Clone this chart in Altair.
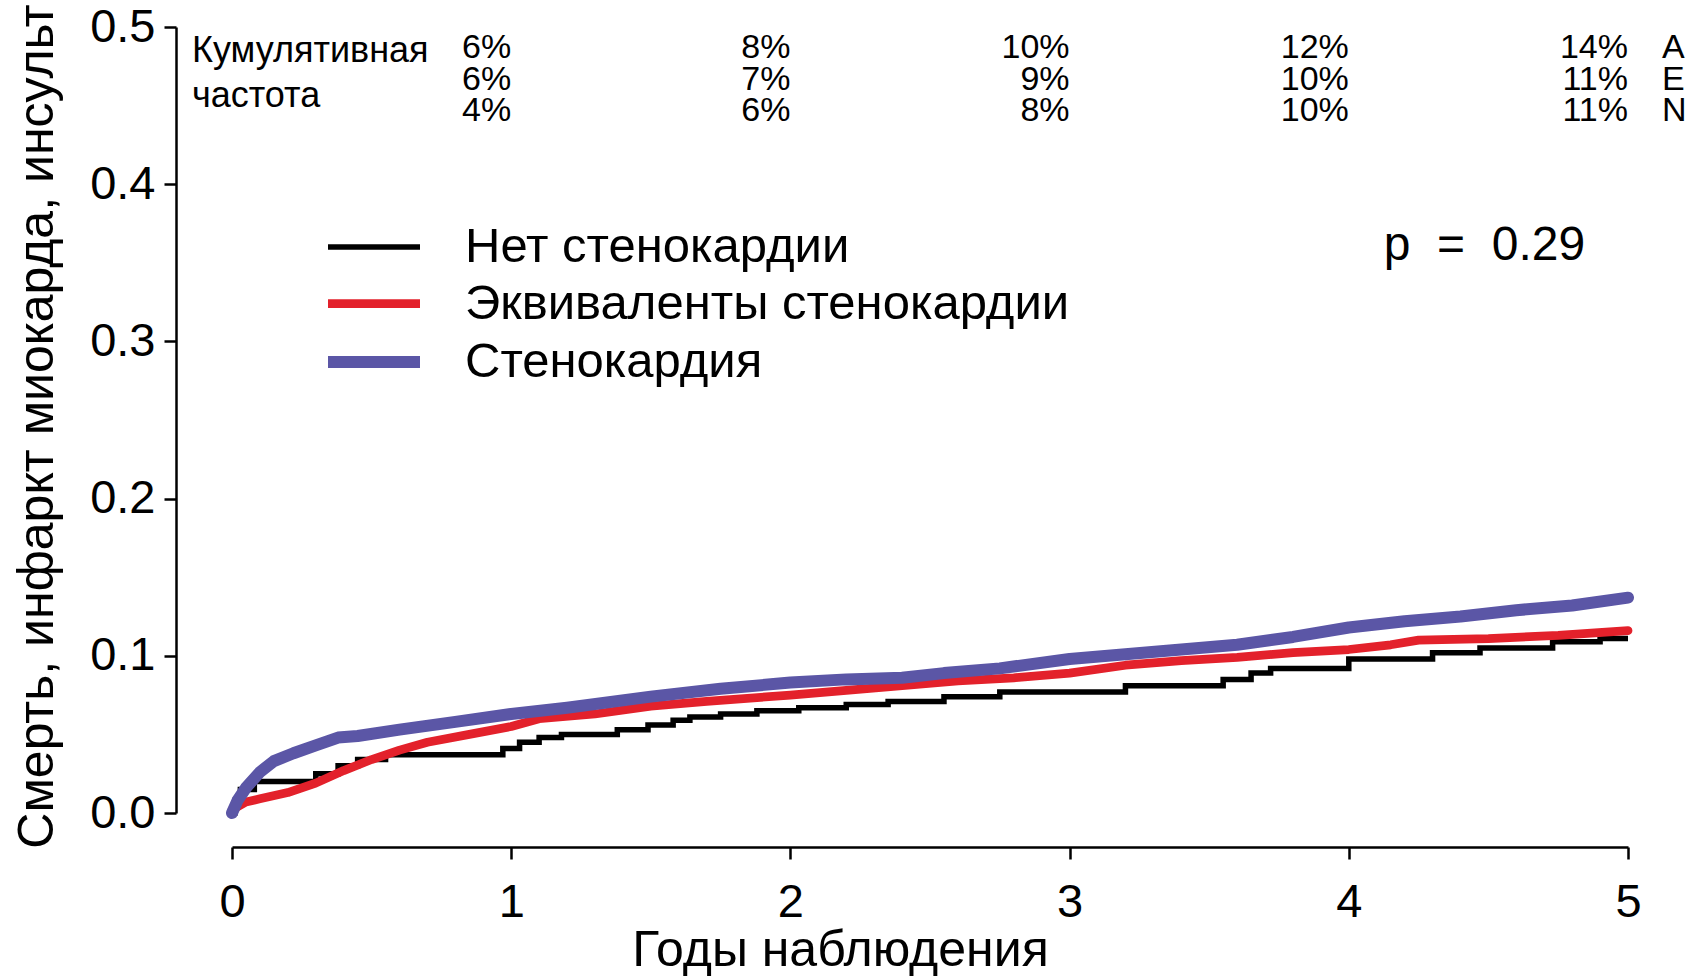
import altair as alt
import pandas as pd

FONT = "Liberation Sans"

# Series (Kaplan-Meier style cumulative incidence curves)
groups = ["Нет стенокардии", "Эквиваленты стенокардии", "Стенокардия"]
colors = ["#000000", "#E3212B", "#5B56A6"]
widths = [5.5, 12, 12]

none_t = [0, 0.01, 0.03, 0.08, 0.30, 0.38, 0.45, 0.55, 0.97, 1.03, 1.10, 1.18,
          1.38, 1.49, 1.58, 1.64, 1.75, 1.88, 2.03, 2.20, 2.35, 2.55, 2.75,
          3.20, 3.55, 3.65, 3.72, 4.00, 4.30, 4.47, 4.73, 4.90, 5.00]
none_v = [0, 0.008, 0.015, 0.020, 0.025, 0.030, 0.034, 0.037, 0.041, 0.045, 0.048, 0.050,
          0.053, 0.056, 0.059, 0.061, 0.063, 0.065, 0.067, 0.069, 0.071, 0.074, 0.077,
          0.081, 0.085, 0.089, 0.092, 0.098, 0.102, 0.105, 0.109, 0.111, 0.111]

equiv_t = [0, 0.05, 0.10, 0.20, 0.30, 0.40, 0.50, 0.60, 0.70, 0.85, 1.00, 1.10, 1.30,
           1.50, 1.70, 2.00, 2.20, 2.40, 2.60, 2.80, 3.00, 3.20, 3.40, 3.60, 3.80,
           4.00, 4.15, 4.25, 4.50, 4.75, 5.00]
equiv_v = [0.002, 0.007, 0.009, 0.013, 0.019, 0.027, 0.034, 0.040, 0.045, 0.050, 0.055,
           0.060, 0.063, 0.068, 0.071, 0.075, 0.078, 0.081, 0.084, 0.086, 0.089, 0.094,
           0.097, 0.099, 0.102, 0.104, 0.107, 0.110, 0.111, 0.113, 0.116]

angina_t = [0, 0.02, 0.05, 0.10, 0.15, 0.22, 0.30, 0.38, 0.45, 0.60, 0.80, 1.00, 1.20,
            1.50, 1.75, 2.00, 2.20, 2.40, 2.55, 2.75, 3.00, 3.20, 3.40, 3.60, 3.80,
            4.00, 4.20, 4.40, 4.60, 4.80, 5.00]
angina_v = [0.000, 0.008, 0.016, 0.026, 0.033, 0.038, 0.043, 0.048, 0.049, 0.053, 0.058,
            0.063, 0.067, 0.074, 0.079, 0.083, 0.085, 0.086, 0.089, 0.092, 0.098, 0.101,
            0.104, 0.107, 0.112, 0.118, 0.122, 0.125, 0.129, 0.132, 0.137]

# Cumulative incidence table printed above the curves
years = [1, 2, 3, 4, 5]
pct_angina = ["6%", "8%", "10%", "12%", "14%"]
pct_equiv = ["6%", "7%", "9%", "10%", "11%"]
pct_none = ["4%", "6%", "8%", "10%", "11%"]
row_codes = ["A", "E", "N"]

curves = pd.concat([
    pd.DataFrame({"t": none_t, "v": none_v, "group": groups[0]}),
    pd.DataFrame({"t": equiv_t, "v": equiv_v, "group": groups[1]}),
    pd.DataFrame({"t": angina_t, "v": angina_v, "group": groups[2]}),
], ignore_index=True)

pct_rows = []
for r, labels in enumerate([pct_angina, pct_equiv, pct_none]):
    for yr, lab in zip(years, labels):
        pct_rows.append({"year": yr, "label": lab, "row": r})
pct_df = pd.DataFrame(pct_rows)
code_df = pd.DataFrame({"year": [5] * 3, "label": row_codes, "row": [0, 1, 2]})

# Legend swatch: a horizontal stroke twice as long as the nominal symbol box,
# so the rows stay compact while the line samples stay long.
legend = alt.Legend(
    orient="none", legendX=113, legendY=194, title=None,
    symbolType="M-2,0H2", symbolSize=2116, labelFontSize=49, labelFont=FONT,
    labelOffset=62, labelLimit=0, rowPadding=4, labelColor="black",
)

x_enc = alt.X(
    "t:Q",
    scale=alt.Scale(domain=[0, 5], nice=False, zero=False),
    axis=alt.Axis(
        values=[0, 1, 2, 3, 4, 5], format="d", title="Годы наблюдения",
        offset=34, tickSize=12, labelPadding=20, labelFontSize=47, labelFlush=False,
        titleFontSize=50, titleX=608, titleY=118, titleBaseline="alphabetic",
        titleAlign="center",
    ),
)
y_enc = alt.Y(
    "v:Q",
    scale=alt.Scale(domain=[0, 0.5], nice=False),
    axis=alt.Axis(
        values=[0, 0.1, 0.2, 0.3, 0.4, 0.5], format=".1f",
        title="Смерть, инфаркт миокарда, инсульт", labelFlush=False,
        offset=56, tickSize=12, labelPadding=9, labelFontSize=47,
        titleFontSize=50, titleX=-124, titleY=399, titleAngle=270,
        titleBaseline="alphabetic", titleAlign="center",
    ),
)
color_enc = alt.Color("group:N", scale=alt.Scale(domain=groups, range=colors), legend=legend)
width_enc = alt.StrokeWidth("group:N", scale=alt.Scale(domain=groups, range=widths), legend=legend)

base = alt.Chart(curves).encode(x=x_enc, y=y_enc, color=color_enc, strokeWidth=width_enc)

line_none = base.transform_filter(alt.datum.group == groups[0]).mark_line(
    interpolate="step-after", strokeCap="butt")
line_equiv = base.transform_filter(alt.datum.group == groups[1]).mark_line(
    interpolate="linear", strokeCap="round", strokeJoin="round")
line_angina = base.transform_filter(alt.datum.group == groups[2]).mark_line(
    interpolate="linear", strokeCap="round", strokeJoin="round")

pct_text = alt.Chart(pct_df).transform_calculate(
    yy="0.48 - 0.02 * datum.row"
).mark_text(align="right", baseline="alphabetic", font=FONT, fontSize=34, color="black").encode(
    x="year:Q", y="yy:Q", text="label:N"
)
code_text = alt.Chart(code_df).transform_calculate(
    yy="0.48 - 0.02 * datum.row"
).mark_text(align="left", baseline="alphabetic", dx=34, font=FONT, fontSize=34, color="black").encode(
    x="year:Q", y="yy:Q", text="label:N"
)
head_df = pd.DataFrame({"x": [0, 0], "y": [0.478, 0.449], "label": ["Кумулятивная", "частота"]})
head_text = alt.Chart(head_df).mark_text(
    align="left", baseline="alphabetic", dx=-40, font=FONT, fontSize=36, color="black"
).encode(x="x:Q", y="y:Q", text="label:N")

p_df = pd.DataFrame({"x": [4.125], "y": [0.361], "label": ["p\u00a0\u00a0=\u00a0\u00a00.29"]})
p_text = alt.Chart(p_df).mark_text(
    align="left", baseline="middle", font=FONT, fontSize=48, color="black"
).encode(x="x:Q", y="y:Q", text="label:N")

chart = alt.layer(
    line_none, line_equiv, line_angina, pct_text, code_text, head_text, p_text
).properties(
    width=1396, height=786,
    autosize=alt.AutoSizeParams(type="none"),
    padding={"left": 232, "top": 27, "right": 64, "bottom": 164},
    background="white",
).configure_view(stroke=None).configure_axis(
    grid=False, domainColor="black", domainWidth=2.5, tickColor="black", tickWidth=2.5,
    labelColor="black", titleColor="black", labelFont=FONT, titleFont=FONT,
    titleFontWeight="normal",
)

chart.save("out.html", embed_options={"renderer": "svg", "actions": False})
